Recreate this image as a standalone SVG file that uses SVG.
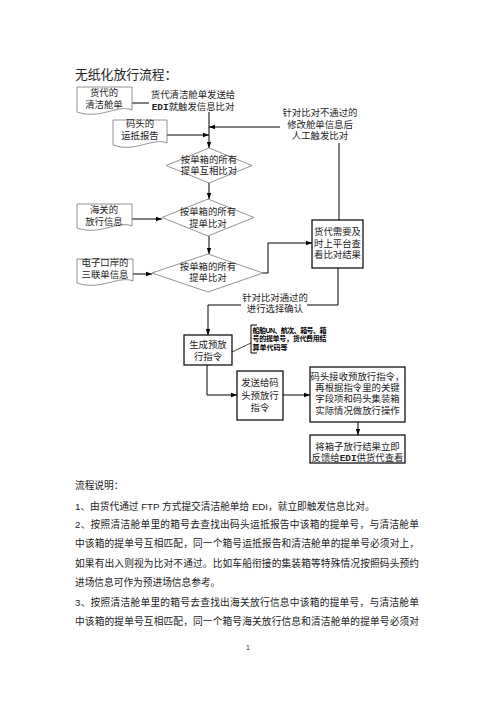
<svg xmlns="http://www.w3.org/2000/svg" width="496" height="702" viewBox="0 0 496 702">
<style>
text{font-family:"Liberation Sans","Noto Sans CJK SC",sans-serif;fill:#222}
.n{font-size:9.4px;text-anchor:middle}
.doc{fill:#fff;stroke:#777;stroke-width:0.8}
.dia{fill:#fff;stroke:#777;stroke-width:0.8}
.box{fill:#fff;stroke:#000;stroke-width:1.2}
.ln{fill:none;stroke:#000;stroke-width:1}
.b{font-size:9.7px}
.co{font-size:7px;font-weight:bold;fill:#000}
</style>
<defs>
<marker id="ah" markerUnits="userSpaceOnUse" markerWidth="6" markerHeight="6" viewBox="0 0 6 6" refX="6" refY="3" orient="auto">
<path d="M0,0.8 L6,3 L0,5.2 Z" fill="#000"/>
</marker>
</defs>
<rect width="496" height="702" fill="#fff"/>
<text x="75" y="79" style="font-size:12.8px">无纸化放行流程：</text>

<g id="connectors">
<path class="ln" d="M132,103 H149"/>
<path class="ln" d="M209,112 V148" marker-end="url(#ah)"/>
<path class="ln" d="M280,127 H209" marker-end="url(#ah)"/>
<path class="ln" d="M167,135 H209" marker-end="url(#ah)"/>
<path class="ln" d="M209,183 V199" marker-end="url(#ah)"/>
<path class="ln" d="M132,219 H162" marker-end="url(#ah)"/>
<path class="ln" d="M209,236 V254" marker-end="url(#ah)"/>
<path class="ln" d="M133,274 H152" marker-end="url(#ah)"/>
<path class="ln" d="M263,273 H268 V243 H312" marker-end="url(#ah)"/>
<path class="ln" d="M339,143 V220"/>
<path class="ln" d="M338,268 V305 H307"/>
<path class="ln" d="M241,305 H208 V335" marker-end="url(#ah)"/>
<path class="ln" d="M232,352 L251,343" stroke-width="0.7" style="stroke:#444"/>
<path class="ln" d="M207,365 V395 H237" marker-end="url(#ah)"/>
<path class="ln" d="M283,395 H310" marker-end="url(#ah)"/>
<path class="ln" d="M358,422 V435" marker-end="url(#ah)"/>
</g>

<g id="doc-manifest">
<path class="doc" d="M77,87 H132 V110 C118,104 100,120 77,112 Z"/>
<text class="n" x="104" y="96">货代的</text>
<text class="n" x="104" y="108">清洁舱单</text>
</g>
<g id="label-send">
<text class="n" x="193" y="98">货代清洁舱单发送给</text>
<text class="n" x="193" y="110"><tspan font-weight="bold" font-family="Liberation Mono,monospace">EDI</tspan>就触发信息比对</text>
</g>
<g id="label-fail">
<text class="n" x="320" y="116">针对比对不通过的</text>
<text class="n" x="320" y="128">修改舱单信息后</text>
<text class="n" x="320" y="139">人工触发比对</text>
</g>
<g id="doc-arrival">
<path class="doc" d="M113,120 H167 V143 C153,137 135,153 113,145 Z"/>
<text class="n" x="140" y="127">码头的</text>
<text class="n" x="140" y="139">运抵报告</text>
</g>
<g id="dia1">
<polygon class="dia" points="209,148 252,165.5 209,183 166,165.5"/>
<text class="n" x="209" y="163">按单箱的所有</text>
<text class="n" x="209" y="174">提单互相比对</text>
</g>
<g id="doc-customs">
<path class="doc" d="M77,204 H132 V226 C118,220 100,236 77,228 Z"/>
<text class="n" x="104" y="213">海关的</text>
<text class="n" x="104" y="225">放行信息</text>
</g>
<g id="dia2">
<polygon class="dia" points="208,199 254,217.5 208,236 162,217.5"/>
<text class="n" x="208" y="215">按单箱的所有</text>
<text class="n" x="208" y="227">提单比对</text>
</g>
<g id="doc-eport">
<path class="doc" d="M77,259 H133 V281 C119,275 101,291 77,283 Z"/>
<text class="n" x="105" y="266">电子口岸的</text>
<text class="n" x="105" y="278">三联单信息</text>
</g>
<g id="dia3">
<polygon class="dia" points="208,254 263,273 208,292 152,273"/>
<text class="n" x="208" y="270">按单箱的所有</text>
<text class="n" x="208" y="281">提单比对</text>
</g>
<g id="box-check">
<rect class="box" x="312" y="220" width="51" height="48"/>
<text class="n" x="337.5" y="235">货代需要及</text>
<text class="n" x="337.5" y="247">时上平台查</text>
<text class="n" x="337.5" y="258">看比对结果</text>
</g>
<g id="label-pass">
<text class="n" x="275" y="301">针对比对通过的</text>
<text class="n" x="275" y="312">进行选择确认</text>
</g>
<g id="box-gen">
<rect class="box" x="184" y="335" width="48" height="30"/>
<text class="n" x="208" y="348">生成预放</text>
<text class="n" x="208" y="360">行指令</text>
</g>
<g id="callout">
<path class="ln" d="M257,325 H251 V353 H257" stroke-width="1"/>
<text class="co" x="252.5" y="332.5" textLength="74" lengthAdjust="spacing">船舶UN、航次、箱号、箱</text>
<text class="co" x="252.5" y="341" textLength="74" lengthAdjust="spacing">号的提单号，货代费用结</text>
<text class="co" x="252.5" y="349.5">算单代码等</text>
</g>
<g id="box-send">
<rect class="box" x="237" y="371" width="46" height="49"/>
<text class="n" x="260" y="386">发送给码</text>
<text class="n" x="260" y="399">头预放行</text>
<text class="n" x="260" y="411">指令</text>
</g>
<g id="box-terminal">
<rect class="box" x="310" y="367" width="95" height="55"/>
<text class="n" x="357.5" y="380">码头接收预放行指令，</text>
<text class="n" x="357.5" y="391">再根据指令里的关键</text>
<text class="n" x="357.5" y="402">字段项和码头集装箱</text>
<text class="n" x="357.5" y="414">实际情况做放行操作</text>
</g>
<g id="box-feedback">
<rect class="box" x="310" y="435" width="95" height="28"/>
<text class="n" x="357.5" y="450">将箱子放行结果立即</text>
<text class="n" x="357.5" y="461">反馈给<tspan font-weight="bold" font-family="Liberation Mono,monospace">EDI</tspan>供货代查看</text>
</g>

<g id="body">
<text class="b" x="75" y="489">流程说明：</text>
<text class="b" x="75" y="510">1、由货代通过 FTP 方式提交清洁舱单给 EDI，就立即触发信息比对。</text>
<text class="b" x="75" y="528" textLength="344" lengthAdjust="spacing">2、按照清洁舱单里的箱号去查找出码头运抵报告中该箱的提单号，与清洁舱单</text>
<text class="b" x="75" y="547" textLength="344" lengthAdjust="spacing">中该箱的提单号互相匹配，同一个箱号运抵报告和清洁舱单的提单号必须对上，</text>
<text class="b" x="75" y="567" textLength="344" lengthAdjust="spacing">如果有出入则视为比对不通过。比如车船衔接的集装箱等特殊情况按照码头预约</text>
<text class="b" x="75" y="586">进场信息可作为预进场信息参考。</text>
<text class="b" x="75" y="606" textLength="344" lengthAdjust="spacing">3、按照清洁舱单里的箱号去查找出海关放行信息中该箱的提单号，与清洁舱单</text>
<text class="b" x="75" y="625" textLength="344" lengthAdjust="spacing">中该箱的提单号互相匹配，同一个箱号海关放行信息和清洁舱单的提单号必须对</text>
<text x="248" y="650" style="font-size:7px;text-anchor:middle">1</text>
</g>
</svg>
